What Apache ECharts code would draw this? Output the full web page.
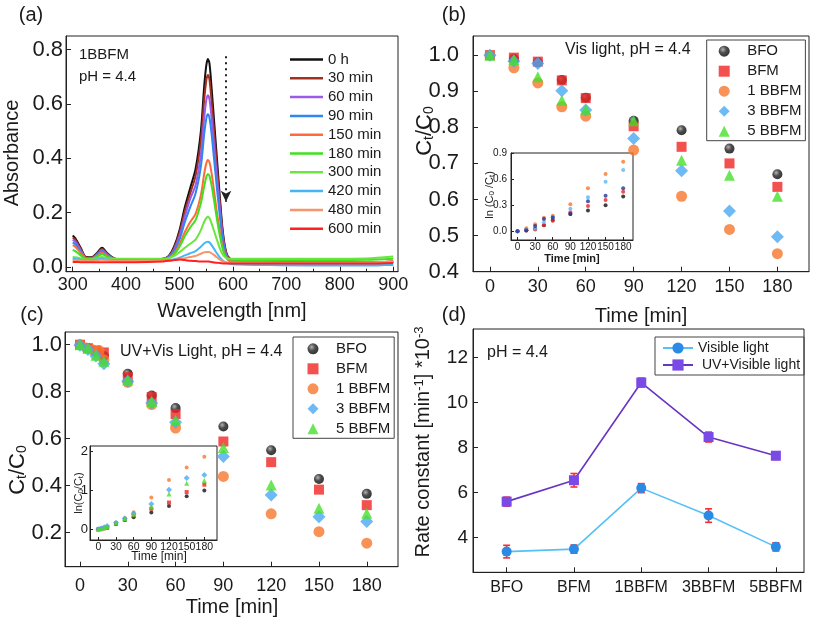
<!DOCTYPE html>
<html><head><meta charset="utf-8">
<script src="https://cdn.jsdelivr.net/npm/echarts@6/dist/echarts.min.js"></script>
<style>html,body{margin:0;padding:0;background:#fff}#c{width:813px;height:622px}</style>
</head><body><div id="c"></div><script>
const FONT = 'Liberation Sans, Arial, Helvetica, sans-serif';
const INK = '#1a1a1a';

// ---------- Panel (a): absorbance spectra ----------
const wavelengths = [300,305,315,325,335,345,355,365,380,400,440,470,480,490,500,510,520,530,540,546,550,553,556,560,565,570,575,580,585,590,600,650,750,850,900];
const specLabels = ['0 h','30 min','60 min','90 min','150 min','180 min','300 min','420 min','480 min','600 min'];
const specColors = ['#111111','#a3301f','#9a5ce8','#2f86ef','#ff6a3c','#3fe01c','#6ae63e','#47b5f5','#f5956b','#ff2020'];
const abs0h   = [0.115,0.105,0.07,0.036,0.035,0.05,0.07,0.05,0.03,0.028,0.026,0.03,0.04,0.075,0.135,0.22,0.29,0.36,0.5,0.66,0.74,0.765,0.75,0.66,0.53,0.4,0.27,0.15,0.075,0.04,0.026,0.02,0.016,0.016,0.02];
const abs30   = [0.108,0.099,0.066,0.034,0.033,0.047,0.066,0.047,0.029,0.027,0.026,0.03,0.039,0.07,0.125,0.205,0.27,0.335,0.465,0.61,0.685,0.706,0.69,0.61,0.49,0.37,0.25,0.14,0.07,0.038,0.025,0.02,0.015,0.015,0.018];
const abs60   = [0.1,0.092,0.062,0.033,0.032,0.045,0.062,0.045,0.029,0.027,0.026,0.03,0.037,0.064,0.113,0.185,0.25,0.3,0.415,0.545,0.612,0.632,0.618,0.55,0.44,0.33,0.225,0.125,0.064,0.035,0.022,0.017,0.012,0.012,0.015];
const abs90   = [0.09,0.083,0.057,0.031,0.03,0.042,0.058,0.042,0.028,0.026,0.024,0.028,0.034,0.058,0.1,0.165,0.22,0.27,0.37,0.485,0.545,0.562,0.55,0.49,0.39,0.29,0.195,0.11,0.055,0.028,0.014,0.008,0.006,0.006,0.008];
const abs150  = [0.08,0.074,0.051,0.03,0.029,0.039,0.052,0.039,0.027,0.026,0.024,0.027,0.032,0.05,0.083,0.128,0.165,0.195,0.265,0.34,0.38,0.393,0.385,0.345,0.275,0.2,0.137,0.08,0.045,0.028,0.02,0.018,0.016,0.016,0.02];
const abs180  = [0.062,0.058,0.042,0.028,0.028,0.036,0.046,0.036,0.028,0.027,0.026,0.028,0.032,0.046,0.074,0.113,0.145,0.172,0.235,0.295,0.33,0.341,0.335,0.3,0.24,0.176,0.12,0.072,0.042,0.03,0.026,0.025,0.025,0.026,0.03];
const abs300  = [0.036,0.035,0.031,0.027,0.028,0.032,0.036,0.032,0.03,0.03,0.03,0.03,0.032,0.04,0.054,0.07,0.085,0.1,0.135,0.165,0.179,0.184,0.18,0.16,0.13,0.1,0.071,0.048,0.036,0.031,0.03,0.03,0.03,0.031,0.038];
const abs420  = [0.03,0.029,0.026,0.024,0.025,0.027,0.03,0.027,0.025,0.025,0.024,0.024,0.025,0.028,0.034,0.042,0.05,0.058,0.074,0.086,0.091,0.092,0.09,0.08,0.065,0.05,0.036,0.025,0.017,0.013,0.009,0.007,0.006,0.006,0.008];
const abs480  = [0.025,0.025,0.023,0.022,0.022,0.024,0.026,0.024,0.022,0.022,0.022,0.022,0.023,0.025,0.028,0.032,0.036,0.04,0.048,0.053,0.055,0.055,0.054,0.05,0.043,0.035,0.027,0.021,0.018,0.016,0.015,0.015,0.015,0.016,0.02];
const abs600  = [0.018,0.018,0.017,0.017,0.017,0.017,0.017,0.017,0.017,0.017,0.018,0.02,0.022,0.025,0.027,0.025,0.022,0.021,0.02,0.02,0.02,0.02,0.019,0.018,0.016,0.015,0.014,0.013,0.012,0.012,0.012,0.012,0.012,0.012,0.014];
const spectra = [abs0h,abs30,abs60,abs90,abs150,abs180,abs300,abs420,abs480,abs600];
const arrowA = {x: 587, from: 0.775, to: 0.24};
const ticksAx = [300,400,500,600,700,800,900];
const ticksAxMinor = [350,450,550,650,750,850];
const ticksAy = [0,0.2,0.4,0.6,0.8];

// ---------- Panels (b),(c): Ct/C0 ----------
const sampleNames = ['BFO','BFM','1 BBFM','3 BBFM','5 BBFM'];
const timeB = [0,15,30,45,60,90,120,150,180];
const bBFO   = [1.0,0.99,0.98,0.931,0.882,0.818,0.792,0.741,0.67];
const bBFM   = [1.0,0.993,0.982,0.93,0.881,0.803,0.746,0.70,0.635];
const b1BBFM = [1.0,0.965,0.923,0.857,0.831,0.737,0.609,0.517,0.45];
const b3BBFM = [1.0,0.983,0.977,0.901,0.848,0.769,0.68,0.568,0.497];
const b5BBFM = [1.0,0.988,0.94,0.875,0.85,0.818,0.709,0.667,0.609];
const lnB_BFO   = [0,0.01,0.03,0.07,0.13,0.2,0.24,0.3,0.4];
const lnB_BFM   = [0,0.01,0.02,0.07,0.12,0.22,0.29,0.36,0.455];
const lnB_1BBFM = [0,0.035,0.08,0.155,0.18,0.31,0.495,0.66,0.8];
const lnB_3BBFM = [0,0.02,0.03,0.105,0.165,0.26,0.39,0.57,0.705];
const lnB_5BBFM = [0,0.012,0.06,0.14,0.16,0.2,0.345,0.41,0.495];

const timeC  = [0,5,10,15,30,45,60,90,120,150,180];
const timeC1 = [0,4,8,12,15,30,45,60,90,120,150,180];
const cBFO   = [1.0,0.985,0.97,0.952,0.876,0.784,0.73,0.652,0.551,0.428,0.365];
const cBFM   = [1.0,0.985,0.975,0.967,0.862,0.777,0.705,0.588,0.5,0.383,0.317];
const c1BBFM = [1.0,0.986,0.978,0.975,0.936,0.84,0.745,0.645,0.439,0.28,0.204,0.155];
const c3BBFM = [0.998,0.98,0.952,0.919,0.844,0.752,0.67,0.524,0.36,0.268,0.247];
const c5BBFM = [1.0,0.985,0.955,0.929,0.85,0.758,0.678,0.562,0.403,0.304,0.283];
const lnC_BFO   = [0,0.015,0.03,0.05,0.13,0.24,0.31,0.43,0.6,0.85,1.0];
const lnC_BFM   = [0,0.015,0.025,0.035,0.15,0.25,0.35,0.53,0.69,0.96,1.15];
const lnC_1BBFM = [0,0.014,0.022,0.025,0.065,0.17,0.29,0.44,0.82,1.27,1.59,1.87];
const lnC_3BBFM = [0,0.02,0.05,0.085,0.17,0.28,0.4,0.65,1.02,1.32,1.4];
const lnC_5BBFM = [0,0.015,0.046,0.075,0.16,0.28,0.39,0.58,0.91,1.19,1.26];
const ticksTime = [0,30,60,90,120,150,180];

// ---------- Panel (d): rate constants ----------
const rateCats = ['BFO','BFM','1BBFM','3BBFM','5BBFM'];
const rateVis = [3.38,3.49,6.2,4.98,3.59];
const errVis  = [0.28,0.18,0.2,0.3,0.18];
const rateUV  = [5.6,6.55,10.89,8.47,7.64];
const errUV   = [0.2,0.3,0.2,0.22,0.17];

// ---------- helpers ----------
const zip = (xs, ys) => xs.map((x, i) => [x, ys[i]]);
function vAxis(gi, min, max, ticks, o) {
  o = o || {};
  return {
    type: 'value', gridIndex: gi, min: min, max: max, position: o.position,
    axisLine: {show: o.line !== false, onZero: false, lineStyle: {color: '#222', width: 1}},
    axisTick: {show: true, inside: true, length: o.tickLen || 5, customValues: ticks, lineStyle: {color: '#222', width: 1}},
    axisLabel: {show: o.noLabel ? false : true, customValues: ticks, fontSize: o.fs || 18, color: INK,
      fontFamily: FONT, margin: o.margin == null ? 6 : o.margin, formatter: o.fmt || (v => String(v)),
      showMinLabel: true, showMaxLabel: true, hideOverlap: false},
    splitLine: {show: false}
  };
}
const f1 = v => v.toFixed(1);
const ballBlack = {type: 'radial', x: 0.38, y: 0.35, r: 0.7,
  colorStops: [{offset: 0, color: '#a0a0a0'}, {offset: 0.45, color: '#222'}, {offset: 1, color: '#000'}]};
const mainStyles = [
  {symbol: 'circle', size: 10, color: ballBlack},
  {symbol: 'rect', size: 10, color: '#f02424'},
  {symbol: 'circle', size: 11, color: '#f7772c'},
  {symbol: 'diamond', size: 13, color: '#4aa9f2'},
  {symbol: 'triangle', size: 11, color: '#46e02a'}
];
function scat(name, xi, data, st) {
  return {type: 'scatter', name: name, xAxisIndex: xi, yAxisIndex: xi, data: data,
    symbol: st.symbol, symbolSize: st.size, itemStyle: {color: st.color}, silent: true};
}

const grids = [
  {left: 66, top: 36, width: 332, height: 235.7},
  {left: 473, top: 36, width: 336, height: 235.7},
  {left: 511, top: 153, width: 122, height: 87},
  {left: 65, top: 332, width: 333, height: 234.7},
  {left: 90, top: 446, width: 127, height: 94},
  {left: 473, top: 329, width: 331, height: 243.3}
].map(g => Object.assign({show: true, borderColor: '#222', borderWidth: 1, backgroundColor: 'transparent', containLabel: false}, g));

const xAxes = [
  vAxis(0, 287.5, 909, ticksAx, {fs: 18, margin: 4, position: 'bottom'}),
  vAxis(1, -10.6, 199.8, ticksTime, {fs: 18, margin: 6}),
  vAxis(2, -11.1, 196.7, ticksTime, {fs: 10, margin: 2, tickLen: 3}),
  vAxis(3, -9.4, 199.6, ticksTime, {fs: 18, margin: 10}),
  vAxis(4, -14.1, 201.5, ticksTime, {fs: 10.5, margin: 2, tickLen: 3}),
  vAxis(5, -0.5, 4.418, [0,1,2,3,4], {fs: 16, margin: 7, fmt: v => rateCats[v]}),
  vAxis(0, 287.5, 909, ticksAxMinor, {noLabel: true, line: false, tickLen: 3, position: 'bottom'})
];
const yAxes = [
  vAxis(0, -0.018, 0.85, ticksAy, {fs: 22, margin: 3, fmt: f1}),
  vAxis(1, 0.4, 1.053, [0.4,0.5,0.6,0.7,0.8,0.9,1.0], {fs: 22, margin: 14, fmt: f1}),
  vAxis(2, -0.1, 0.9, [0,0.3,0.6,0.9], {fs: 10, margin: 4, tickLen: 3, fmt: f1}),
  vAxis(3, 0.055, 1.054, [0.2,0.4,0.6,0.8,1.0], {fs: 22, margin: 3, fmt: f1}),
  vAxis(4, -0.276, 2.147, [0,1,2], {fs: 13, margin: 2, tickLen: 3}),
  vAxis(5, 2.46, 13.27, [4,6,8,10,12], {fs: 19, margin: 5})
];

const series = [];
// (a)
spectra.forEach((arr, k) => {
  const s = {type: 'line', name: specLabels[k], xAxisIndex: 0, yAxisIndex: 0,
    data: zip(wavelengths, arr), showSymbol: false, symbol: 'none', smooth: 0.3,
    lineStyle: {width: 2, color: specColors[k]}, itemStyle: {color: specColors[k]}, silent: true};
  if (k === 0) {
    s.markLine = {silent: true, symbol: ['none', 'arrow'], symbolSize: [8, 11],
      label: {show: false}, lineStyle: {type: [2, 4], width: 2, color: '#222'},
      data: [[{coord: [arrowA.x, arrowA.from]}, {coord: [arrowA.x, arrowA.to]}]]};
  }
  series.push(s);
});
// (b)
[bBFO, bBFM, b1BBFM, b3BBFM, b5BBFM].forEach((arr, k) => series.push(scat(sampleNames[k], 1, zip(timeB, arr), mainStyles[k])));
const insetBColors = ['#111111', '#ee2222', '#f7772c', '#5bb8f5', '#23339c'];
[lnB_BFO, lnB_BFM, lnB_1BBFM, lnB_3BBFM, lnB_5BBFM].forEach((arr, k) =>
  series.push(scat('insetB ' + k, 2, zip(timeB, arr), {symbol: 'circle', size: 4, color: insetBColors[k]})));
// (c)
const cTimes = [timeC, timeC, timeC1, timeC, timeC];
[cBFO, cBFM, c1BBFM, c3BBFM, c5BBFM].forEach((arr, k) => series.push(scat(sampleNames[k], 3, zip(cTimes[k], arr), mainStyles[k])));
const insetCStyles = [
  {symbol: 'circle', size: 4, color: '#111'}, {symbol: 'rect', size: 4, color: '#ee2222'},
  {symbol: 'circle', size: 4, color: '#f7772c'}, {symbol: 'diamond', size: 6, color: '#4aa9f2'},
  {symbol: 'triangle', size: 5, color: '#46e02a'}];
[lnC_BFO, lnC_BFM, lnC_1BBFM, lnC_3BBFM, lnC_5BBFM].forEach((arr, k) =>
  series.push(scat('insetC ' + k, 4, zip(cTimes[k], arr), insetCStyles[k])));
// (d)
function errBars(vals, errs) {
  return {type: 'custom', xAxisIndex: 5, yAxisIndex: 5, z: 1, silent: true,
    data: vals.map((v, i) => [i, v, errs[i]]),
    renderItem: (params, api) => {
      const x = api.value(0), y = api.value(1), e = api.value(2);
      const p1 = api.coord([x, y + e]), p2 = api.coord([x, y - e]);
      const w = 3.5, st = {stroke: '#ff2a2a', lineWidth: 1.6};
      return {type: 'group', children: [
        {type: 'line', shape: {x1: p1[0], y1: p1[1], x2: p2[0], y2: p2[1]}, style: st},
        {type: 'line', shape: {x1: p1[0] - w, y1: p1[1], x2: p1[0] + w, y2: p1[1]}, style: st},
        {type: 'line', shape: {x1: p2[0] - w, y1: p2[1], x2: p2[0] + w, y2: p2[1]}, style: st}]};
    }};
}
series.push(errBars(rateVis, errVis));
series.push(errBars(rateUV, errUV));
series.push({type: 'line', name: 'Visible light', xAxisIndex: 5, yAxisIndex: 5, z: 3,
  data: rateVis.map((v, i) => [i, v]), symbol: 'circle', symbolSize: 10, showSymbol: true,
  lineStyle: {color: '#55c0f5', width: 1.6}, itemStyle: {color: '#2a8be6'}, silent: true});
series.push({type: 'line', name: 'UV+Visible light', xAxisIndex: 5, yAxisIndex: 5, z: 3,
  data: rateUV.map((v, i) => [i, v]), symbol: 'rect', symbolSize: 10, showSymbol: true,
  lineStyle: {color: '#6a34c2', width: 1.6}, itemStyle: {color: '#7a4ae6'}, silent: true});

const legTxt = {fontSize: 15, lineHeight: 14, color: INK, fontFamily: FONT};
const legends = [
  {data: specLabels.map(n => ({name: n, icon: 'rect'})), orient: 'vertical', left: 290, top: 52,
   itemWidth: 33, itemHeight: 2.5, itemGap: 3.8,
   padding: 0, selectedMode: false, textStyle: legTxt},
  {data: sampleNames, orient: 'vertical', left: 706.7, top: 40, itemWidth: 11, itemHeight: 11, itemGap: 5,
   padding: [3.7, 4, 2, 12], borderColor: '#444', borderWidth: 1, selectedMode: false,
   formatter: n => '   ' + n, textStyle: legTxt},
  {data: sampleNames, orient: 'vertical', left: 293, top: 337, itemWidth: 11, itemHeight: 11, itemGap: 5,
   padding: [4.3, 4, 2, 14.5], borderColor: '#444', borderWidth: 1, selectedMode: false,
   formatter: n => '   ' + n, textStyle: legTxt},
  {data: ['Visible light', 'UV+Visible light'], orient: 'vertical', left: 655, top: 337, itemWidth: 30, itemHeight: 14,
   itemGap: 3, padding: [4, 4, 3, 7], borderColor: '#444', borderWidth: 1, selectedMode: false,
   formatter: n => n === 'UV+Visible light' ? ' ' + n : n,
   textStyle: {fontSize: 14, lineHeight: 14, color: INK, fontFamily: FONT}}
];

function txt(x, y, text, fs, o) {
  o = o || {};
  return {type: 'text', x: x, y: y, rotation: o.rot || 0, silent: true, z: 10,
    style: {text: text, fontSize: fs, fontFamily: FONT, fill: INK, fontWeight: o.bold ? 'bold' : 'normal',
      align: o.align || 'center', verticalAlign: 'middle', rich: o.rich}};
}
const R90 = Math.PI / 2;
const subRich = (fs) => ({s: {fontSize: fs, lineHeight: Math.round(fs * 0.7), verticalAlign: 'bottom', fontFamily: FONT, fill: INK}});
const supRich = {p: {fontSize: 13, lineHeight: 9, verticalAlign: 'top', fontFamily: FONT, fill: INK}};
const graphics = [
  txt(31, 15, '(a)', 20), txt(454, 15, '(b)', 20), txt(32, 315, '(c)', 20), txt(454, 315, '(d)', 20),
  txt(12, 153, 'Absorbance', 20, {rot: R90}),
  txt(232, 311, 'Wavelength [nm]', 20),
  txt(425, 131, 'C{s|t}/C{s|0}', 22, {rot: R90, rich: subRich(14)}),
  txt(641, 316, 'Time [min]', 20),
  txt(18, 470, 'C{s|t}/C{s|0}', 22, {rot: R90, rich: subRich(14)}),
  txt(232, 607, 'Time [min]', 20),
  txt(423, 442, 'Rate constant [min{p|-1}] *10{p|-3}', 20, {rot: R90, rich: supRich}),
  txt(79, 55, '1BBFM', 15, {align: 'left'}),
  txt(79, 77, 'pH = 4.4', 15, {align: 'left'}),
  txt(565, 50, 'Vis light, pH = 4.4', 16, {align: 'left'}),
  txt(120, 352, 'UV+Vis Light, pH = 4.4', 16, {align: 'left'}),
  txt(487, 353, 'pH = 4.4', 16, {align: 'left'}),
  txt(490, 195, 'ln (C{s|0} /C{s|t})', 11, {rot: R90, rich: subRich(8)}),
  txt(572, 259, 'Time [min]', 11, {bold: true}),
  txt(79, 493, 'ln(C{s|0}/C{s|t})', 11, {rot: R90, rich: subRich(8)}),
  txt(159, 557, 'Time [min]', 12)
];

const chart = echarts.init(document.getElementById('c'), null, {renderer: 'canvas'});
chart.setOption({
  animation: false,
  backgroundColor: '#fff',
  textStyle: {fontFamily: FONT},
  grid: grids, xAxis: xAxes, yAxis: yAxes,
  legend: legends, series: series, graphic: graphics
});
</script></body></html>
